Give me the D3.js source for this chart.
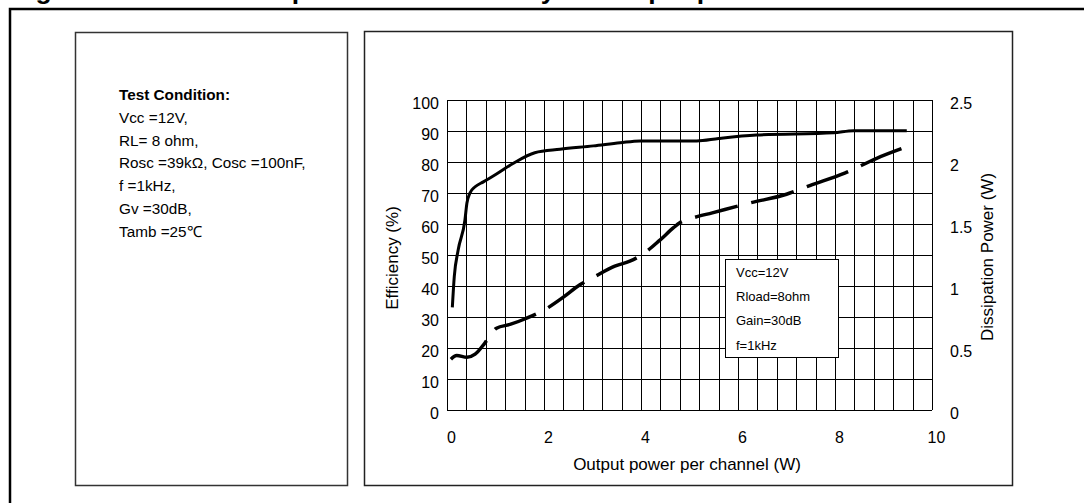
<!DOCTYPE html>
<html>
<head>
<meta charset="utf-8">
<script src="https://cdn.jsdelivr.net/npm/d3@7"></script>
<style>
  body { margin: 0; background: #fff; }
  svg { display: block; font-family: "Liberation Sans", Arial, sans-serif; }
</style>
</head>
<body>
<svg id="plot" width="1084" height="503"></svg>
<script>
// data
var powerTicks = [0, 2, 4, 6, 8, 10];
var effTicks = [0, 10, 20, 30, 40, 50, 60, 70, 80, 90, 100];
var dissTicks = [0, 0.5, 1, 1.5, 2, 2.5];

// efficiency curve (solid, left axis)
var effPower = [0.11, 0.15, 0.23, 0.37, 0.41, 0.47, 0.58, 0.75, 1.02, 1.37, 1.81, 2.33, 3.02, 3.57, 3.98, 5.15, 5.6, 6.38, 7.97, 8.38, 9.48];
var effValue = [33.1, 43, 51.6, 61.3, 66.7, 69.9, 72, 73.6, 76.1, 79.6, 83, 84.1, 85.2, 86.2, 86.8, 86.8, 87.6, 88.7, 89.4, 90.1, 90.1];

// dissipation power curve (dashed, right axis)
var dissPower = [0.08, 0.2, 0.41, 0.58, 0.78, 1.02, 1.3, 1.64, 2.02, 2.4, 2.74, 3.02, 3.46, 3.77, 4.05, 4.39, 4.67, 4.8, 5.08, 5.47, 6.25, 7.0, 7.48, 8.2, 8.86, 9.46];
var dissValue = [0.41, 0.44, 0.425, 0.45, 0.54, 0.66, 0.69, 0.74, 0.81, 0.91, 1.01, 1.07, 1.16, 1.2, 1.26, 1.37, 1.47, 1.51, 1.55, 1.59, 1.67, 1.74, 1.81, 1.91, 2.03, 2.12];

var testLines = ["Vcc =12V,", "RL= 8 ohm,", "Rosc =39k\u03A9, Cosc =100nF,", "f =1kHz,", "Gv =30dB,", "Tamb =25\u2103"];
var legendLines = ["Vcc=12V", "Rload=8ohm", "Gain=30dB", "f=1kHz"];

var svg = d3.select('#plot');

//scales
var x = d3.scaleLinear().domain([0, 10]).range([447, 932]),
    yL = d3.scaleLinear().domain([0, 100]).range([410, 100]),
    yR = d3.scaleLinear().domain([0, 2.5]).range([410, 100]);

// figure title, cut off at the very top like the source
svg.append('text')
    .attr('x', 12)
    .attr('y', -1.5)
    .style('font-size', '26.5px')
    .style('font-weight', 'bold')
    .text('Figure 20. Power dissipation and efficiency vs. output power');

// outer frame (only left and top visible)
svg.append('path')
    .attr('d', 'M10,503 L10,9 L1084,9')
    .style('fill', 'none')
    .style('stroke', '#000')
    .style('stroke-width', 2.5);

// left box with test conditions
svg.append('rect')
    .attr('x', 75.5).attr('y', 32.5)
    .attr('width', 272).attr('height', 453)
    .style('fill', 'none')
    .style('stroke', '#333')
    .style('stroke-width', 1.5);

svg.append('text')
    .attr('x', 119)
    .attr('y', 100)
    .style('font-size', '15.3px')
    .style('font-weight', 'bold')
    .text('Test Condition:');

svg.selectAll('.cond')
    .data(testLines)
    .enter()
    .append('text')
    .attr('class', 'cond')
    .attr('x', 119)
    .attr('y', function(d, i) { return 100 + (i + 1) * 22.8; })
    .style('font-size', '15.3px')
    .text(function(d) { return d; });

// chart box
svg.append('rect')
    .attr('x', 364.5).attr('y', 31.5)
    .attr('width', 648).attr('height', 454)
    .style('fill', 'none')
    .style('stroke', '#222')
    .style('stroke-width', 1.5);

var g = svg.append('g');

// grid lines: vertical every 0.4 W, horizontal every 10 %
var vGrid = d3.range(0, 26).map(function(i) { return i * 0.4; });
g.selectAll('.vgrid')
    .data(vGrid)
    .enter()
    .append('line')
    .attr('class', 'vgrid')
    .attr('x1', function(d) { return Math.round(x(d)) + 0.5; })
    .attr('x2', function(d) { return Math.round(x(d)) + 0.5; })
    .attr('y1', yL(100))
    .attr('y2', yL(0))
    .style('stroke', '#000')
    .style('stroke-width', 1);

g.selectAll('.hgrid')
    .data(effTicks)
    .enter()
    .append('line')
    .attr('class', 'hgrid')
    .attr('x1', x(0))
    .attr('x2', x(10))
    .attr('y1', function(d) { return Math.round(yL(d)) + 0.5; })
    .attr('y2', function(d) { return Math.round(yL(d)) + 0.5; })
    .style('stroke', '#000')
    .style('stroke-width', 1);

// axes (labels only, grid draws the lines)
var xAxis = g.append('g')
    .attr('transform', 'translate(0,410)')
    .call(d3.axisBottom(x).tickValues(powerTicks).tickSize(0).tickPadding(21.6).tickFormat(function(d) { return d; }));
xAxis.selectAll('text').attr('dx', 4);

var yAxisL = g.append('g')
    .attr('transform', 'translate(447,0)')
    .call(d3.axisLeft(yL).tickValues(effTicks).tickSize(0).tickPadding(8).tickFormat(function(d) { return d; }));
yAxisL.selectAll('text').attr('dy', '0.5em');

var yAxisR = g.append('g')
    .attr('transform', 'translate(932,0)')
    .call(d3.axisRight(yR).tickValues(dissTicks).tickSize(0).tickPadding(18).tickFormat(function(d) { return d; }));
yAxisR.selectAll('text').attr('dy', '0.5em');

g.selectAll('.domain').remove();
g.selectAll('.tick text')
    .style('font-size', '16px')
    .style('font-family', '"Liberation Sans", Arial, sans-serif')
    .style('fill', '#000');

// axis titles
g.append('text')
    .attr('x', 687)
    .attr('y', 470)
    .attr('text-anchor', 'middle')
    .style('font-size', '17px')
    .text('Output power per channel (W)');

g.append('text')
    .attr('transform', 'translate(398,258) rotate(-90)')
    .attr('text-anchor', 'middle')
    .style('font-size', '17px')
    .text('Efficiency (%)');

g.append('text')
    .attr('transform', 'translate(993,257) rotate(-90)')
    .attr('text-anchor', 'middle')
    .style('font-size', '17px')
    .text('Dissipation Power (W)');

// curves
var effLine = d3.line()
    .x(function(d, i) { return x(effPower[i]); })
    .y(function(d) { return yL(d); })
    .curve(d3.curveMonotoneX);

g.append('path')
    .datum(effValue)
    .attr('d', effLine)
    .style('fill', 'none')
    .style('stroke', '#000')
    .style('stroke-width', 3);

var dissLine = d3.line()
    .x(function(d, i) { return x(dissPower[i]); })
    .y(function(d) { return yR(d); })
    .curve(d3.curveMonotoneX);

g.append('path')
    .datum(dissValue)
    .attr('d', dissLine)
    .style('fill', 'none')
    .style('stroke', '#000')
    .style('stroke-width', 3.5)
    .style('stroke-dasharray', '44,14');

// legend box
var leg = g.append('g');
leg.append('rect')
    .attr('x', 725.5).attr('y', 259.5)
    .attr('width', 113).attr('height', 98)
    .style('fill', '#fff')
    .style('stroke', '#000')
    .style('stroke-width', 1);

leg.selectAll('.legtext')
    .data(legendLines)
    .enter()
    .append('text')
    .attr('class', 'legtext')
    .attr('x', 736)
    .attr('y', function(d, i) { return 277 + i * 24.2; })
    .style('font-size', '13px')
    .text(function(d) { return d; });
</script>
</body>
</html>
